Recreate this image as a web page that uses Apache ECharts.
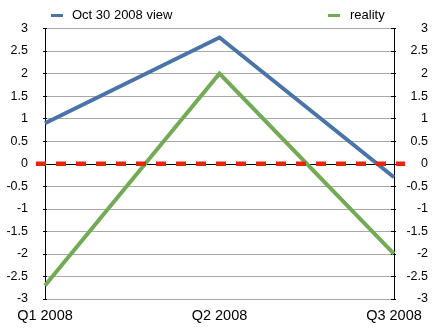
<!DOCTYPE html>
<html>
<head>
<meta charset="utf-8">
<script src="https://cdn.jsdelivr.net/npm/echarts@6/dist/echarts.min.js"></script>
<style>
  html, body { margin: 0; padding: 0; background: #fff; }
  #chart { width: 440px; height: 332px; }
</style>
</head>
<body>
<div id="chart"></div>
<script>
// Quarterly figures: the late-October forecast against what happened
const quarters = ['Q1 2008', 'Q2 2008', 'Q3 2008'];
const oct30View = [0.9, 2.8, -0.3];
const reality = [-2.7, 2.0, -2.0];
// Zero reference line, spanning slightly past both axes
const zeroLevel = [0, 0];

const FONT = '"Liberation Sans", Arial, Helvetica, sans-serif';
const BLUE = '#4a74a8';
const GREEN = '#72aa56';
const RED = '#e3260e';

const yBase = { type: 'value', min: -3, max: 3, interval: 0.5, gridIndex: 0 };

const chart = echarts.init(document.getElementById('chart'), null, { renderer: 'canvas' });
chart.setOption({
  animation: false,
  backgroundColor: '#fff',
  textStyle: { fontFamily: FONT },
  legend: [
    {
      data: ['Oct 30 2008 view'], left: 46, top: 4,
      icon: 'rect', itemWidth: 12, itemHeight: 3,
      textStyle: { fontFamily: FONT, fontSize: 13, color: '#000', padding: [0, 0, 0, 4] }
    },
    {
      data: ['reality'], left: 323, top: 4,
      icon: 'rect', itemWidth: 12, itemHeight: 3,
      textStyle: { fontFamily: FONT, fontSize: 13, color: '#000', padding: [0, 0, 0, 5] }
    }
  ],
  grid: [
    { left: 45, right: 46, top: 28.5, bottom: 33 },
    { left: 36, right: 35, top: 28.5, bottom: 33 }
  ],
  xAxis: [
    {
      type: 'category', gridIndex: 0, data: quarters, boundaryGap: false,
      axisLine: { lineStyle: { color: '#000', width: 1 } },
      axisTick: { show: false },
      splitLine: { show: false },
      axisLabel: { fontFamily: FONT, fontSize: 14.5, color: '#000', margin: 9 }
    },
    { type: 'value', gridIndex: 1, min: 0, max: zeroLevel.length - 1, show: false }
  ],
  yAxis: [
    Object.assign({}, yBase, {
      position: 'left',
      axisLine: { show: true, lineStyle: { color: '#000', width: 1 } },
      axisTick: { show: true, length: 2, lineStyle: { color: '#000' } },
      splitLine: { show: true, lineStyle: { color: '#a8a8a8', width: 1 } },
      axisLabel: { fontFamily: FONT, fontSize: 12.5, color: '#000', margin: 17 }
    }),
    Object.assign({}, yBase, {
      position: 'right',
      axisLine: { show: true, lineStyle: { color: '#000', width: 1 } },
      axisTick: { show: true, length: 2, lineStyle: { color: '#000' } },
      splitLine: { show: false },
      axisLabel: { fontFamily: FONT, fontSize: 12.5, color: '#000', margin: 34, align: 'right' }
    }),
    Object.assign({}, yBase, {
      position: 'left',
      axisLine: { show: false },
      axisTick: { show: true, inside: true, length: 2, lineStyle: { color: '#000' } },
      splitLine: { show: false },
      axisLabel: { show: false }
    }),
    Object.assign({}, yBase, {
      position: 'right',
      axisLine: { show: false },
      axisTick: { show: true, inside: true, length: 3, lineStyle: { color: '#000' } },
      splitLine: { show: false },
      axisLabel: { show: false }
    }),
    { type: 'value', gridIndex: 1, min: -3, max: 3, show: false }
  ],
  series: [
    {
      name: 'Oct 30 2008 view', type: 'line', xAxisIndex: 0, yAxisIndex: 0,
      data: oct30View, symbol: 'none', color: BLUE,
      lineStyle: { width: 4, color: BLUE, join: 'miter', cap: 'butt' }, z: 3
    },
    {
      name: 'reality', type: 'line', xAxisIndex: 0, yAxisIndex: 0,
      data: reality, symbol: 'none', color: GREEN,
      lineStyle: { width: 4, color: GREEN, join: 'miter', cap: 'butt' }, z: 3
    },
    {
      name: 'zero', type: 'line', xAxisIndex: 1, yAxisIndex: 4,
      data: zeroLevel.map((v, i) => [i, v]), symbol: 'none', silent: true,
      lineStyle: { width: 4.5, color: RED, type: [10, 10], cap: 'butt' }, z: 4
    }
  ]
});
</script>
</body>
</html>
